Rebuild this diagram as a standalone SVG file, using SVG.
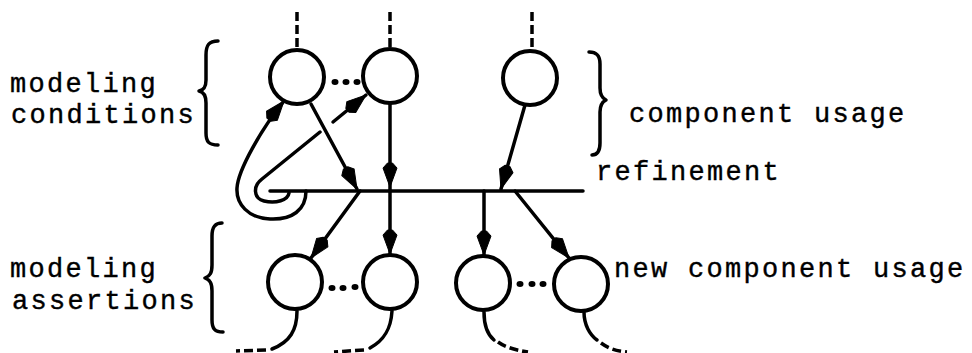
<svg xmlns="http://www.w3.org/2000/svg" width="972" height="353" viewBox="0 0 972 353">
<style>
.node{fill:#fff;stroke:#000;stroke-width:4}
.ln{fill:none;stroke:#000;stroke-width:3.5;stroke-linecap:round}
.dsh{fill:none;stroke:#000;stroke-width:3.5;stroke-dasharray:9 4}
.br{fill:none;stroke:#000;stroke-width:3.5;stroke-linecap:round;stroke-linejoin:round}
.dot{fill:#000}
.t{font-family:"Liberation Mono","Courier New",monospace;font-size:27px;letter-spacing:2.3px;fill:#000;stroke:#000;stroke-width:0.4}
</style>
<defs>
<path id="ah" d="M0,0 L-19,-7 L-24,-2.5 L-24,2.5 L-19,7 z" fill="#000" stroke="#000" stroke-width="1" stroke-linejoin="round"/>
</defs>
<rect width="972" height="353" fill="#fff"/>

<g id="connectors">
<line class="dsh" x1="297" y1="12" x2="297" y2="49"/>
<line class="dsh" x1="390" y1="12" x2="390" y2="48"/>
<line class="dsh" x1="532" y1="12" x2="532" y2="50"/>
<line class="ln" x1="270" y1="191" x2="583" y2="191"/>
<line class="ln" x1="311" y1="104" x2="357" y2="189"/>
<use href="#ah" transform="translate(357,189) rotate(61.6)"/>
<line class="ln" x1="390" y1="104" x2="390" y2="190"/>
<use href="#ah" transform="translate(390,187) rotate(90)"/>
<line class="ln" x1="525" y1="105" x2="501" y2="189"/>
<use href="#ah" transform="translate(501,189) rotate(106)"/>
<line class="ln" x1="360" y1="191" x2="311" y2="258"/>
<use href="#ah" transform="translate(311,258) rotate(126.2)"/>
<line class="ln" x1="390" y1="191" x2="390" y2="254"/>
<use href="#ah" transform="translate(390,254) rotate(90)"/>
<line class="ln" x1="484" y1="191" x2="484" y2="255"/>
<use href="#ah" transform="translate(484,255) rotate(90)"/>
<line class="ln" x1="515" y1="191" x2="569" y2="258"/>
<use href="#ah" transform="translate(569,258) rotate(51.1)"/>
<path class="ln" d="M306,191 C306,210 292,220 270,219 C248,218 236,204 237,188 C238,170 262,128 284,101"/>
<use href="#ah" transform="translate(284,101) rotate(-50.8)"/>
<path class="ln" d="M320,132 L262,179 C253,186 253,198 264,201 C276,204 288,200 289,193"/>
<line class="ln" x1="333" y1="122" x2="366" y2="95"/>
<use href="#ah" transform="translate(366,95) rotate(-39.3)"/>
<path class="ln" d="M297,311 C297,330 290,342 272,349"/>
<path class="dsh" d="M266,350 L236,351"/>
<path class="ln" d="M392,311 C391,328 385,340 370,348"/>
<path class="dsh" d="M364,350 L334,352"/>
<path class="ln" d="M484,312 C484,325 488,335 494,340"/>
<path class="dsh" d="M498,342 C505,347 515,350 528,352"/>
<path class="ln" d="M584,312 C584,325 590,335 597,340"/>
<path class="dsh" d="M601,343 C608,348 615,351 627,352"/>
</g>

<g id="c1"><circle class="node" cx="297" cy="77" r="27"/></g>
<g id="c2"><circle class="node" cx="390" cy="76" r="27"/></g>
<g id="c3"><circle class="node" cx="530" cy="78" r="27"/></g>
<g id="a1"><circle class="node" cx="295" cy="282" r="27"/></g>
<g id="a2"><circle class="node" cx="390" cy="282" r="27"/></g>
<g id="a3"><circle class="node" cx="483" cy="283" r="27"/></g>
<g id="a4"><circle class="node" cx="581" cy="284" r="27"/></g>

<g id="ellipses">
<ellipse class="dot" cx="335" cy="82" rx="3.5" ry="3"/>
<ellipse class="dot" cx="346" cy="82" rx="3.5" ry="3"/>
<ellipse class="dot" cx="357" cy="82" rx="3.5" ry="3"/>
<ellipse class="dot" cx="332" cy="288" rx="3.5" ry="3"/>
<ellipse class="dot" cx="343" cy="288" rx="3.5" ry="3"/>
<ellipse class="dot" cx="355" cy="287" rx="3.5" ry="3"/>
<ellipse class="dot" cx="520" cy="284" rx="3.5" ry="3"/>
<ellipse class="dot" cx="532" cy="284" rx="3.5" ry="3"/>
<ellipse class="dot" cx="543" cy="284" rx="3.5" ry="3"/>
</g>

<g id="braces">
<path class="br" d="M218,41 C209,41 206,45 206,55 L206,80 C206,87 204,90 199,91 C204,92 206,96 206,103 L206,133 C206,142 209,145 218,145"/>
<path class="br" d="M222,223 C215,223 212,227 212,236 L212,265 C212,273 210,276 205,278 C210,280 212,283 212,291 L212,320 C212,329 215,332 223,332"/>
<path class="br" d="M589,52 C596,52 600,55 600,64 L600,88 C600,95 602,98 606,100 C602,102 600,105 600,112 L600,143 C600,151 597,155 592,155"/>
</g>

<g id="labels">
<text class="t" x="10" y="92">modeling</text>
<text class="t" x="11" y="123">conditions</text>
<text class="t" x="629" y="122">component usage</text>
<text class="t" x="596" y="180">refinement</text>
<text class="t" x="10" y="277">modeling</text>
<text class="t" x="12" y="309">assertions</text>
<text class="t" x="614" y="277">new component usage</text>
</g>
</svg>
